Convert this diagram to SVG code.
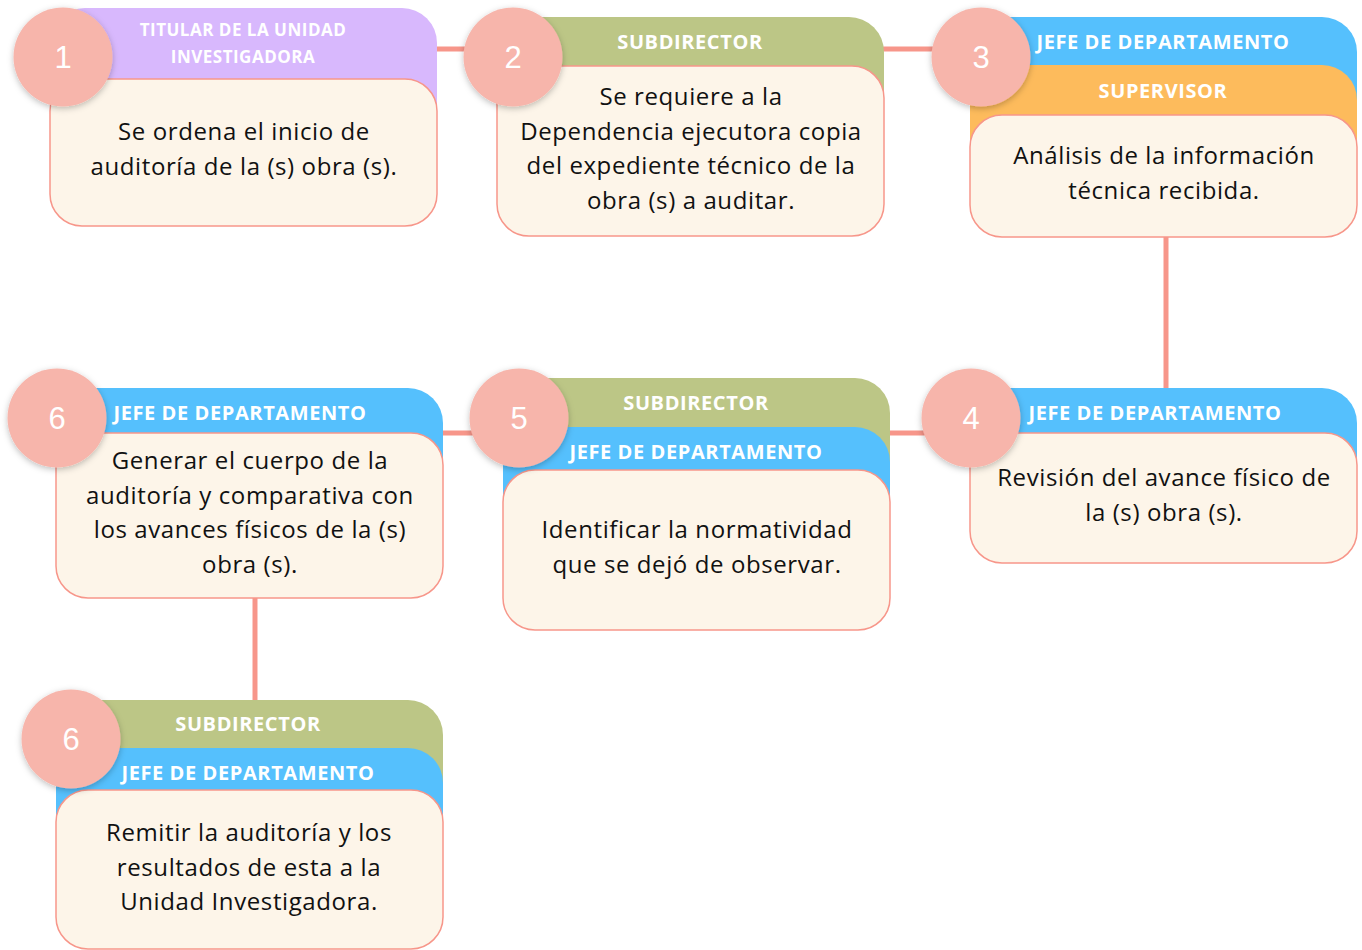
<svg xmlns="http://www.w3.org/2000/svg" width="1362" height="950" viewBox="0 0 1362 950">
<defs>
<filter id="sh" x="-30%" y="-30%" width="160%" height="160%">
<feDropShadow dx="0" dy="2" stdDeviation="3" flood-color="#000" flood-opacity="0.25"/>
</filter>
<style>
.body{fill:#fdf5e9;stroke:#f7968a;stroke-width:1.5}
.purple{fill:#d8b8fd}
.olive{fill:#bcc686}
.blue{fill:#55c0fd}
.orange{fill:#fdbb5c}
.circ{fill:#f7b5ab;filter:url(#sh)}
.num{font-family:"Liberation Sans",Arial,sans-serif;font-size:31px;fill:#fff;text-anchor:middle}
.hd{font-family:"Open Sans","Noto Sans",sans-serif;font-weight:700;font-size:20px;letter-spacing:0.6px;fill:#fff;text-anchor:middle}
.hs{font-family:"Open Sans","Noto Sans",sans-serif;font-weight:700;font-size:17px;letter-spacing:0.5px;fill:#fff;text-anchor:middle}
.tx{font-family:"Open Sans","Noto Sans",sans-serif;font-size:24px;letter-spacing:0.6px;fill:#111;text-anchor:middle}
.con{stroke:#f7968a;stroke-width:5;fill:none}
</style>
</defs>
<rect width="1362" height="950" fill="#fff"/>
<g id="connectors">
<line class="con" x1="430" y1="49" x2="505" y2="49"/>
<line class="con" x1="880" y1="49" x2="975" y2="49"/>
<line class="con" x1="1166" y1="230" x2="1166" y2="395"/>
<line class="con" x1="885" y1="433" x2="975" y2="433"/>
<line class="con" x1="438" y1="433" x2="508" y2="433"/>
<line class="con" x1="255" y1="590" x2="255" y2="708"/>
</g>
<g id="node1">
<rect class="purple" x="50" y="8" width="387" height="130" rx="35"/>
<text class="hs" x="243" y="36">TITULAR DE LA UNIDAD</text>
<text class="hs" x="243" y="63">INVESTIGADORA</text>
<rect class="body" x="50" y="79" width="387" height="147" rx="32"/>
<text class="tx" x="244" y="140">Se ordena el inicio de</text>
<text class="tx" x="244" y="175">auditoría de la (s) obra (s).</text>
<circle class="circ" cx="63" cy="57" r="49.5"/>
<text class="num" x="63" y="68">1</text>
</g>
<g id="node2">
<rect class="olive" x="497" y="17" width="387" height="130" rx="35"/>
<text class="hd" x="690" y="49">SUBDIRECTOR</text>
<rect class="body" x="497" y="66" width="387" height="170" rx="32"/>
<text class="tx" x="691" y="105">Se requiere a la</text>
<text class="tx" x="691" y="140">Dependencia ejecutora copia</text>
<text class="tx" x="691" y="174">del expediente técnico de la</text>
<text class="tx" x="691" y="209">obra (s) a auditar.</text>
<circle class="circ" cx="513" cy="57" r="49.5"/>
<text class="num" x="513" y="68">2</text>
</g>
<g id="node3">
<rect class="blue" x="970" y="17" width="387" height="130" rx="35"/>
<text class="hd" x="1163" y="49">JEFE DE DEPARTAMENTO</text>
<rect class="orange" x="970" y="65" width="387" height="130" rx="35"/>
<text class="hd" x="1163" y="98">SUPERVISOR</text>
<rect class="body" x="970" y="115" width="387" height="122" rx="32"/>
<text class="tx" x="1164" y="164">Análisis de la información</text>
<text class="tx" x="1164" y="199">técnica recibida.</text>
<circle class="circ" cx="981" cy="57" r="49.5"/>
<text class="num" x="981" y="68">3</text>
</g>
<g id="node4">
<rect class="blue" x="970" y="388" width="387" height="130" rx="35"/>
<text class="hd" x="1155" y="420">JEFE DE DEPARTAMENTO</text>
<rect class="body" x="970" y="433" width="387" height="130" rx="32"/>
<text class="tx" x="1164" y="486">Revisión del avance físico de</text>
<text class="tx" x="1164" y="521">la (s) obra (s).</text>
<circle class="circ" cx="971" cy="418" r="49.5"/>
<text class="num" x="971" y="429">4</text>
</g>
<g id="node5">
<rect class="olive" x="503" y="378" width="387" height="130" rx="35"/>
<text class="hd" x="696" y="410">SUBDIRECTOR</text>
<rect class="blue" x="503" y="427" width="387" height="130" rx="35"/>
<text class="hd" x="696" y="459">JEFE DE DEPARTAMENTO</text>
<rect class="body" x="503" y="470" width="387" height="160" rx="32"/>
<text class="tx" x="697" y="538">Identificar la normatividad</text>
<text class="tx" x="697" y="573">que se dejó de observar.</text>
<circle class="circ" cx="519" cy="418" r="49.5"/>
<text class="num" x="519" y="429">5</text>
</g>
<g id="node6">
<rect class="blue" x="56" y="388" width="387" height="130" rx="35"/>
<text class="hd" x="240" y="420">JEFE DE DEPARTAMENTO</text>
<rect class="body" x="56" y="433" width="387" height="165" rx="32"/>
<text class="tx" x="250" y="469">Generar el cuerpo de la</text>
<text class="tx" x="250" y="504">auditoría y comparativa con</text>
<text class="tx" x="250" y="538">los avances físicos de la (s)</text>
<text class="tx" x="250" y="573">obra (s).</text>
<circle class="circ" cx="57" cy="418" r="49.5"/>
<text class="num" x="57" y="429">6</text>
</g>
<g id="node7">
<rect class="olive" x="56" y="700" width="387" height="130" rx="35"/>
<text class="hd" x="248" y="731">SUBDIRECTOR</text>
<rect class="blue" x="56" y="748" width="387" height="130" rx="35"/>
<text class="hd" x="248" y="780">JEFE DE DEPARTAMENTO</text>
<rect class="body" x="56" y="790" width="387" height="159" rx="32"/>
<text class="tx" x="249" y="841">Remitir la auditoría y los</text>
<text class="tx" x="249" y="876">resultados de esta a la</text>
<text class="tx" x="249" y="910">Unidad Investigadora.</text>
<circle class="circ" cx="71" cy="739" r="49.5"/>
<text class="num" x="71" y="750">6</text>
</g>
</svg>
